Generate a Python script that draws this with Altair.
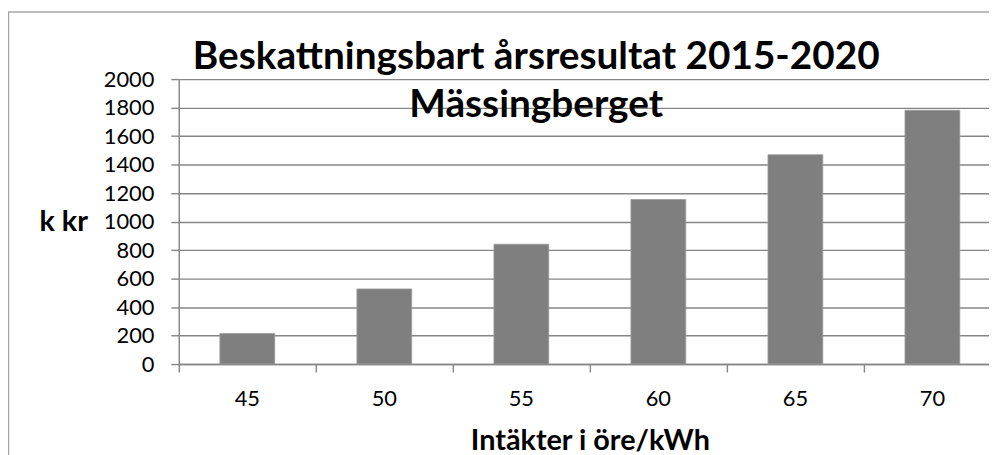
import altair as alt
import pandas as pd

categories = ["45", "50", "55", "60", "65", "70"]
values = [215, 527, 841, 1155, 1469, 1781]
y_ticks = list(range(0, 2001, 200))
title_lines = ["Beskattningsbart årsresultat 2015-2020", "Mässingberget"]
x_title = "Intäkter i öre/kWh"
y_title = "k kr"

df = pd.DataFrame({"cat": categories, "val": values})

FONT = "Lato"
GRAY = "#868686"

bars = alt.Chart(df).mark_bar(color="#7f7f7f", stroke="#9a9a9a", strokeWidth=0.8).encode(
    x=alt.X(
        "cat:N",
        sort=categories,
        scale=alt.Scale(range=[0, 828], paddingInner=0.6, paddingOuter=0.3),
        axis=alt.Axis(
            title=x_title,
            labelAngle=0,
            labelFontSize=22,
            labelFont=FONT,
            labelColor="#000000",
            labelPadding=17,
            tickSize=8,
            tickColor=GRAY,
            tickWidth=1.4,
            bandPosition=-41 / 55,
            domainColor=GRAY,
            domainWidth=1.4,
            titleFont=FONT,
            titleFontSize=29,
            titleFontWeight="bold",
            titleColor="#000000",
            titlePadding=17,
            grid=False,
        ),
    ),
    y=alt.Y(
        "val:Q",
        scale=alt.Scale(domain=[0, 2000], nice=False),
        axis=alt.Axis(
            title=y_title,
            values=y_ticks,
            format="d",
            labelFontSize=22,
            labelFont=FONT,
            labelColor="#000000",
            labelPadding=17,
            tickSize=8,
            tickColor=GRAY,
            tickWidth=1.4,
            domainColor=GRAY,
            domainWidth=1.4,
            gridColor=GRAY,
            gridWidth=1.4,
            titleFont=FONT,
            titleFontSize=29,
            titleFontWeight="bold",
            titleColor="#000000",
            titleAngle=0,
            titleAlign="right",
            titleBaseline="middle",
            titleX=-92,
            titleY=143,
        ),
    ),
)

frame = alt.Chart(pd.DataFrame({"f": [0]})).mark_rect(
    fill="transparent", stroke="#a6a6a6", strokeWidth=1.5
).encode(
    x=alt.value(-171.5), x2=alt.value(2000), y=alt.value(-67.5), y2=alt.value(1000)
)

chart = alt.layer(frame, bars).properties(
    width=816,
    height=287,
    autosize=alt.AutoSizeParams(type="none"),
    padding={"left": 172, "top": 70, "right": 0, "bottom": 90},
    title=alt.TitleParams(
        text=title_lines,
        font=FONT,
        fontSize=39,
        fontWeight="bold",
        color="#000000",
        lineHeight=48,
        anchor="middle",
        frame="group",
        dx=-48,
        offset=-114,
    ),
).configure_view(stroke=None).configure(background="white")

chart.save("out.html", embed_options={"renderer": "svg", "actions": False})
